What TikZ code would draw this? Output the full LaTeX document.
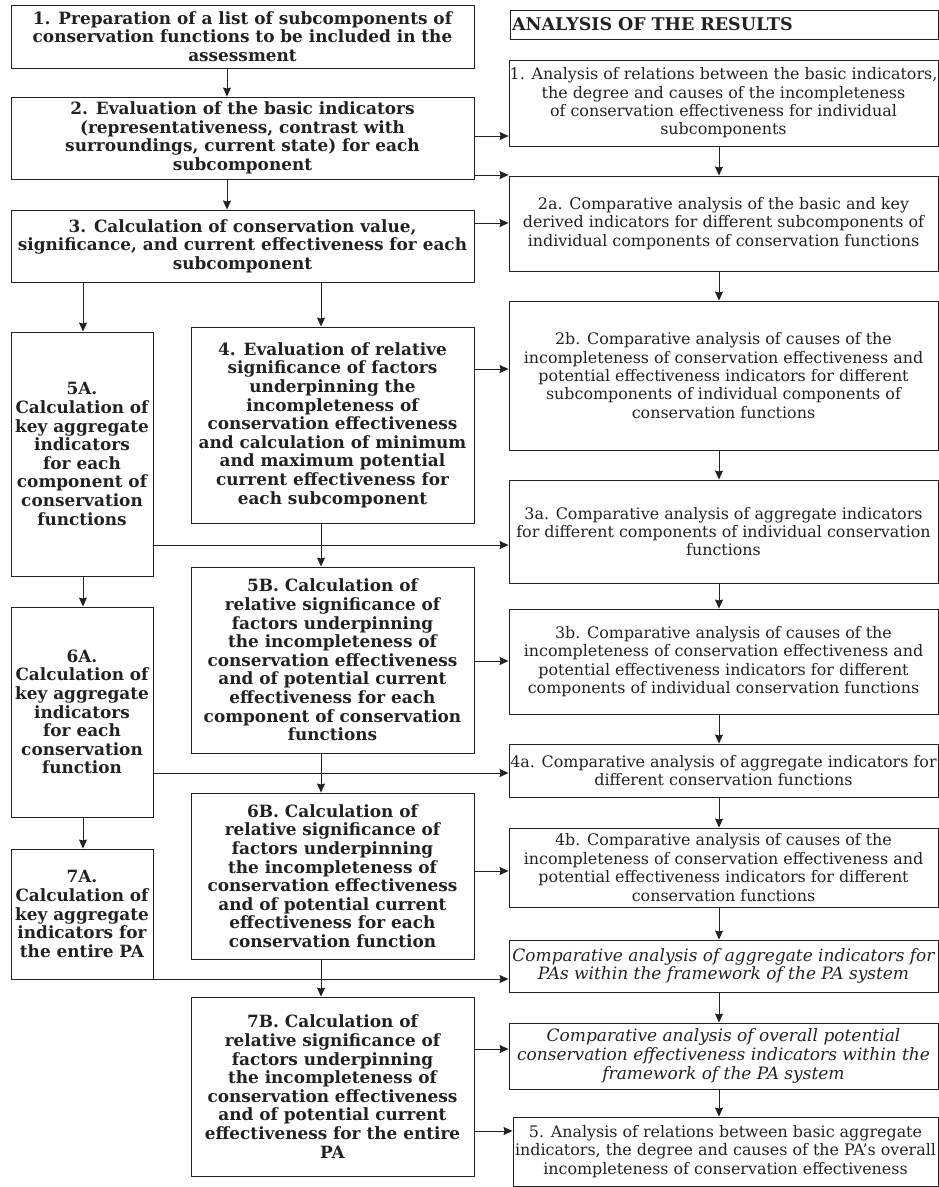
\documentclass[tikz,border=0pt]{standalone}
\usepackage{fontspec}
\setmainfont{DejaVu Serif}
\usetikzlibrary{arrows.meta}
\definecolor{ink}{HTML}{222222}

\begin{document}
\begin{tikzpicture}[x=1pt,y=-1pt,
  lbox/.style={draw=ink, line width=0.9pt, align=center, inner sep=0pt, text=ink,
    font=\fontsize{16.9}{18.6}\selectfont\bfseries},
  rbox/.style={draw=ink, line width=0.9pt, align=center, inner sep=0pt, text=ink,
    font=\fontsize{15.9}{18.4}\selectfont},
  ibox/.style={rbox, font=\fontsize{17}{18.6}\selectfont\itshape},
  arr/.style={draw=ink, line width=0.9pt, -{Stealth[length=9pt,width=8pt,inset=1pt]}}]

\useasboundingbox (0,0) rectangle (939,1187);

% column guides for the vertical connectors
\coordinate (xa) at (227,0);
\coordinate (xl) at (83,0);
\coordinate (xm) at (321,0);
\coordinate (xr) at (719,0);

% ---- calculation steps (left side) ----
\node[lbox, minimum width=463pt, minimum height=63pt] (b1) at (242.5,36.5)
  {1. Preparation of a list of subcomponents of\\conservation functions to be included in the\\assessment};
\node[lbox, minimum width=463pt, minimum height=82pt] (b2) at (242.5,138)
  {2. Evaluation of the basic indicators\\(representativeness, contrast with\\surroundings, current state) for each\\subcomponent};
\node[lbox, minimum width=463pt, minimum height=72pt] (b3) at (242.5,246)
  {3. Calculation of conservation value,\\significance, and current effectiveness for each\\subcomponent};
\node[lbox, minimum width=142pt, minimum height=244pt] (b5a) at (82,454)
  {5A.\\Calculation of\\key aggregate\\indicators\\for each\\component of\\conservation\\functions};
\node[lbox, minimum width=283pt, minimum height=196pt] (b4) at (332.5,425)
  {4. Evaluation of relative\\significance of factors\\underpinning the\\incompleteness of\\conservation effectiveness\\and calculation of minimum\\and maximum potential\\current effectiveness for\\each subcomponent};
\node[lbox, minimum width=283pt, minimum height=186pt] (b5b) at (332.5,660)
  {5B. Calculation of\\relative significance of\\factors underpinning\\the incompleteness of\\conservation effectiveness\\and of potential current\\effectiveness for each\\component of conservation\\functions};
\node[lbox, minimum width=142pt, minimum height=210pt] (b6a) at (82,712)
  {6A.\\Calculation of\\key aggregate\\indicators\\for each\\conservation\\function};
\node[lbox, minimum width=283pt, minimum height=166pt] (b6b) at (332.5,876)
  {6B. Calculation of\\relative significance of\\factors underpinning\\the incompleteness of\\conservation effectiveness\\and of potential current\\effectiveness for each\\conservation function};
\node[lbox, minimum width=142pt, minimum height=130pt] (b7a) at (82,914)
  {7A.\\Calculation of\\key aggregate\\indicators for\\the entire PA};
\node[lbox, minimum width=283pt, minimum height=179pt] (b7b) at (332.5,1086.5)
  {7B. Calculation of\\relative significance of\\factors underpinning\\the incompleteness of\\conservation effectiveness\\and of potential current\\effectiveness for the entire\\PA};

% ---- analysis of the results (right side) ----
\node[draw=ink, line width=0.9pt, inner xsep=2pt, inner ysep=0pt, text width=424pt, align=left,
  minimum height=29pt, text=ink, font=\fontsize{17.5}{19}\selectfont\bfseries] (hdr) at (724,24.5)
  {ANALYSIS OF THE RESULTS};
\node[rbox, minimum width=429pt, minimum height=86pt] (r1) at (723.5,103)
  {1. Analysis of relations between the basic indicators,\\the degree and causes of the incompleteness\\of conservation effectiveness for individual\\subcomponents};
\node[rbox, minimum width=429pt, minimum height=95pt] (r2a) at (723.5,223.5)
  {2a. Comparative analysis of the basic and key\\derived indicators for different subcomponents of\\individual components of conservation functions};
\node[rbox, minimum width=429pt, minimum height=149pt] (r2b) at (723.5,375.5)
  {2b. Comparative analysis of causes of the\\incompleteness of conservation effectiveness and\\potential effectiveness indicators for different\\subcomponents of individual components of\\conservation functions};
\node[rbox, minimum width=429pt, minimum height=103pt] (r3a) at (723.5,531.5)
  {3a. Comparative analysis of aggregate indicators\\for different components of individual conservation\\functions};
\node[rbox, minimum width=429pt, minimum height=105pt] (r3b) at (723.5,661.5)
  {3b. Comparative analysis of causes of the\\incompleteness of conservation effectiveness and\\potential effectiveness indicators for different\\components of individual conservation functions};
\node[rbox, minimum width=429pt, minimum height=53pt] (r4a) at (723.5,770.5)
  {4a. Comparative analysis of aggregate indicators for\\different conservation functions};
\node[rbox, minimum width=429pt, minimum height=79pt] (r4b) at (723.5,867.5)
  {4b. Comparative analysis of causes of the\\incompleteness of conservation effectiveness and\\potential effectiveness indicators for different\\conservation functions};
\node[ibox, minimum width=429pt, minimum height=52pt] (ri1) at (723.5,966)
  {Comparative analysis of aggregate indicators for\\PAs within the framework of the PA system};
\node[ibox, minimum width=429pt, minimum height=66pt] (ri2) at (723.5,1056)
  {Comparative analysis of overall potential\\conservation effectiveness indicators within the\\framework of the PA system};
\node[rbox, minimum width=425pt, minimum height=69pt] (r5) at (725.5,1151.5)
  {5. Analysis of relations between basic aggregate\\indicators, the degree and causes of the PA's overall\\incompleteness of conservation effectiveness};

% ---- vertical connectors, left side ----
\draw[arr] (b1.south -| xa) -- (b2.north -| xa);
\draw[arr] (b2.south -| xa) -- (b3.north -| xa);
\draw[arr] (b3.south -| xl) -- (b5a.north -| xl);
\draw[arr] (b3.south -| xm) -- (b4.north -| xm);
\draw[arr] (b4.south -| xm) -- (b5b.north -| xm);
\draw[arr] (b5b.south -| xm) -- (b6b.north -| xm);
\draw[arr] (b6b.south -| xm) -- (b7b.north -| xm);
\draw[arr] (b5a.south -| xl) -- (b6a.north -| xl);
\draw[arr] (b6a.south -| xl) -- (b7a.north -| xl);

% ---- vertical connectors, right side ----
\draw[arr] (r1.south -| xr) -- (r2a.north -| xr);
\draw[arr] (r2a.south -| xr) -- (r2b.north -| xr);
\draw[arr] (r2b.south -| xr) -- (r3a.north -| xr);
\draw[arr] (r3a.south -| xr) -- (r3b.north -| xr);
\draw[arr] (r3b.south -| xr) -- (r4a.north -| xr);
\draw[arr] (r4a.south -| xr) -- (r4b.north -| xr);
\draw[arr] (r4b.south -| xr) -- (ri1.north -| xr);
\draw[arr] (ri1.south -| xr) -- (ri2.north -| xr);
\draw[arr] (ri2.south -| xr) -- (r5.north -| xr);

% ---- horizontal connectors into the analysis column ----
\draw[arr] (b2.east |- 0,136) -- (r1.west |- 0,136);
\draw[arr] (b2.east |- 0,175) -- (r2a.west |- 0,175);
\draw[arr] (b3.east |- 0,223) -- (r2a.west |- 0,223);
\draw[arr] (b4.east |- 0,369) -- (r2b.west |- 0,369);
\draw[arr] (b5a.east |- 0,545) -- (r3a.west |- 0,545);
\draw[arr] (b5b.east |- 0,661) -- (r3b.west |- 0,661);
\draw[arr] (b6a.east |- 0,773) -- (r4a.west |- 0,773);
\draw[arr] (b6b.east |- 0,871) -- (r4b.west |- 0,871);
\draw[arr] (b7a.east |- 0,979) -- (ri1.west |- 0,979);
\draw[arr] (b7b.east |- 0,1049) -- (ri2.west |- 0,1049);
\draw[arr] (b7b.east |- 0,1131) -- (r5.west |- 0,1131);
\end{tikzpicture}
\end{document}
